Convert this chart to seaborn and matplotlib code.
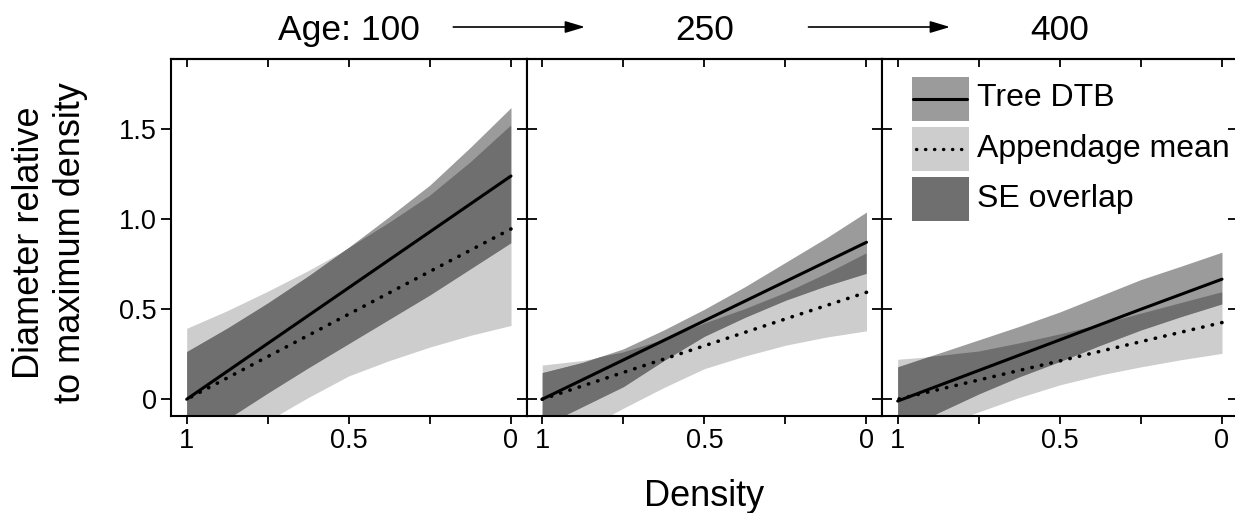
import numpy as np
import pandas as pd
import matplotlib
matplotlib.use("Agg")
import matplotlib.pyplot as plt
import seaborn as sns
from matplotlib.patches import Rectangle, FancyArrowPatch
from matplotlib.lines import Line2D
from matplotlib.legend_handler import HandlerBase
from matplotlib.transforms import Bbox

sns.set_theme(style="ticks", rc={"axes.edgecolor": "black", "xtick.color": "black",
                                 "ytick.color": "black", "text.color": "black"})
plt.rcParams["font.family"] = ["Liberation Sans", "DejaVu Sans"]

# ---------------- data ----------------
MEAN_DENSITY = [1.0, 0.75, 0.5, 0.25, 0.0]
BAND_DENSITY = [1.0, 0.875, 0.75, 0.625, 0.5, 0.375, 0.25, 0.125, 0.0]
AGE_LABELS = ["Age: 100", "250", "400"]
X_TICKS = [1.0, 0.5, 0.0]
X_TICK_LABELS = ["1", "0.5", "0"]
X_MINOR = [0.75, 0.25]
Y_TICKS = [0.0, 0.5, 1.0, 1.5]
Y_TICK_LABELS = ["0", "0.5", "1.0", "1.5"]
LEGEND_LABELS = ["Tree DTB", "Appendage mean", "SE overlap"]

# Age 100
tree_mean_100 = [0.00, 0.31, 0.62, 0.93, 1.24]
app_mean_100 = [0.00, 0.237, 0.473, 0.71, 0.946]
tree_upper_100 = [0.265, 0.395, 0.535, 0.685, 0.845, 1.015, 1.19, 1.40, 1.62]
tree_lower_100 = [-0.265, -0.11, 0.035, 0.175, 0.31, 0.445, 0.58, 0.725, 0.87]
app_upper_100 = [0.394, 0.492, 0.60, 0.715, 0.84, 0.98, 1.13, 1.315, 1.52]
app_lower_100 = [-0.39, -0.25, -0.12, 0.01, 0.13, 0.215, 0.29, 0.355, 0.41]

# Age 250
tree_mean_250 = [0.00, 0.218, 0.436, 0.654, 0.872]
app_mean_250 = [0.00, 0.149, 0.297, 0.446, 0.594]
tree_upper_250 = [0.148, 0.205, 0.28, 0.385, 0.50, 0.625, 0.76, 0.895, 1.04]
tree_lower_250 = [-0.15, -0.04, 0.07, 0.215, 0.35, 0.455, 0.55, 0.63, 0.70]
app_upper_250 = [0.19, 0.215, 0.26, 0.33, 0.42, 0.50, 0.59, 0.695, 0.81]
app_lower_250 = [-0.30, -0.17, -0.05, 0.065, 0.17, 0.24, 0.30, 0.345, 0.38]

# Age 400
tree_mean_400 = [-0.01, 0.16, 0.33, 0.50, 0.667]
app_mean_400 = [0.00, 0.107, 0.213, 0.32, 0.426]
tree_upper_400 = [0.18, 0.255, 0.33, 0.405, 0.485, 0.575, 0.665, 0.74, 0.817]
tree_lower_400 = [-0.20, -0.075, 0.03, 0.125, 0.21, 0.30, 0.385, 0.46, 0.53]
app_upper_400 = [0.222, 0.24, 0.265, 0.31, 0.36, 0.415, 0.475, 0.535, 0.594]
app_lower_400 = [-0.23, -0.15, -0.07, 0.01, 0.08, 0.135, 0.18, 0.22, 0.255]

PANELS = [
    (tree_mean_100, tree_upper_100, tree_lower_100, app_mean_100, app_upper_100, app_lower_100),
    (tree_mean_250, tree_upper_250, tree_lower_250, app_mean_250, app_upper_250, app_lower_250),
    (tree_mean_400, tree_upper_400, tree_lower_400, app_mean_400, app_upper_400, app_lower_400),
]

MEDIUM = "#9b9b9b"
LIGHT = "#cdcdcd"
DARK = "#6f6f6f"
DOT_STYLE = (0, (0.1, 2.6))
XLIM = (1.0484, -0.0478)
YLIM = (-0.093, 1.89)

# ---------------- layout ----------------
W, H = 1235, 513
fig = plt.figure(figsize=(W / 100, H / 100), dpi=100)
left0, pw, top, bot = 171.0, 355.5, 59.0, 416.0
axes = [fig.add_axes([(left0 + i * pw) / W, (H - bot) / H, pw / W, (bot - top) / H])
        for i in range(3)]


class Key:
    def __init__(self, face, ls):
        self.face = face
        self.ls = ls


class KeyHandler(HandlerBase):
    def create_artists(self, legend, orig_handle, xdescent, ydescent, width, height,
                       fontsize, trans):
        cy = 0.245 * fontsize
        rect = Rectangle((-xdescent, cy - height / 2), width, height,
                         facecolor=orig_handle.face, edgecolor="none", transform=trans)
        arts = [rect]
        if orig_handle.ls is not None:
            if orig_handle.ls == "solid":
                ln = Line2D([-xdescent + 1, -xdescent + width - 1], [cy, cy], color="black",
                            lw=2.2, transform=trans)
            else:
                ln = Line2D([-xdescent + 3, -xdescent + width - 2], [cy, cy], color="black",
                            lw=2.4, linestyle=orig_handle.ls, dash_capstyle="round",
                            transform=trans)
            arts.append(ln)
        return arts


view_box = Bbox([[min(XLIM), YLIM[0]], [max(XLIM), YLIM[1]]])

for i, ax in enumerate(axes):
    tm, tu, tl, am, au, al = PANELS[i]
    app_poly = ax.fill_between(BAND_DENSITY, al, au, color=LIGHT, lw=0, zorder=1)
    ax.fill_between(BAND_DENSITY, tl, tu, color=MEDIUM, lw=0, zorder=1.1)
    dark = ax.fill_between(BAND_DENSITY, tl, tu, color=DARK, lw=0, zorder=1.2)
    clip = app_poly.get_paths()[0].clip_to_bbox(view_box)
    dark.set_clip_path(clip, ax.transData)
    dark.set_clip_box(ax.bbox)

    df = pd.DataFrame({"density": MEAN_DENSITY, "tree": tm, "app": am})
    sns.lineplot(data=df, x="density", y="tree", ax=ax, color="black", lw=2.2, zorder=3)
    sns.lineplot(data=df, x="density", y="app", ax=ax, color="black", lw=2.6,
                 linestyle=DOT_STYLE, dash_capstyle="round", zorder=3)

    ax.set_xlim(*XLIM)
    ax.set_ylim(*YLIM)
    ax.set_xlabel("")
    ax.set_ylabel("")
    for sp in ax.spines.values():
        sp.set_linewidth(1.5)
        sp.set_color("black")

    ax.set_xticks(X_TICKS)
    ax.set_xticklabels(X_TICK_LABELS)
    ax.set_xticks(X_MINOR, minor=True)
    ax.tick_params(axis="x", which="both", direction="out", length=6, width=1.3,
                   bottom=True, top=False, labelsize=19.5, pad=2.5)

    sec = ax.secondary_xaxis("top")
    sec.set_xticks(X_TICKS + X_MINOR)
    sec.tick_params(direction="in", length=6, width=1.3, labeltop=False)
    sec.spines["top"].set_linewidth(1.5)

    ax.set_yticks(Y_TICKS)
    if i == 0:
        ax.set_yticklabels(Y_TICK_LABELS)
        ax.tick_params(axis="y", direction="out", length=7.5, width=1.3, left=True,
                       right=False, labelsize=19.5, pad=2.5)
    else:
        ax.tick_params(axis="y", direction="inout", length=13.7, width=1.3, left=True,
                       right=(i == 2), labelleft=False)

    ax.text(0.5, 1.052, AGE_LABELS[i], transform=ax.transAxes, ha="center",
            va="baseline", fontsize=25.5)

# legend in the last panel
handles = [Key(MEDIUM, "solid"), Key(LIGHT, DOT_STYLE), Key(DARK, None)]
axes[2].legend(handles, LEGEND_LABELS, handler_map={Key: KeyHandler()}, loc="upper left",
               bbox_to_anchor=(0.0835, 0.958), frameon=False, fontsize=23,
               handlelength=1.79, handleheight=1.755, labelspacing=0.19,
               handletextpad=0.26, borderpad=0, borderaxespad=0)

# arrows between age titles
for x0, x1 in [(453.3, 585.0), (808.5, 950.0)]:
    arr = FancyArrowPatch((x0 / W, 1 - 27 / H), (x1 / W, 1 - 27 / H),
                          transform=fig.transFigure,
                          arrowstyle="-|>,head_length=1.2,head_width=0.36",
                          mutation_scale=10, lw=1.2, color="black",
                          shrinkA=0, shrinkB=0)
    fig.add_artist(arr)

fig.text(50 / W, 1 - 243 / H, "Diameter relative\nto maximum density", rotation=90,
         ha="center", va="center", fontsize=26, multialignment="center", linespacing=1.2)
fig.text(704 / W, 1 - 496 / H, "Density", ha="center", va="center", fontsize=26)

fig.savefig("out.png", dpi=100, facecolor="white")
